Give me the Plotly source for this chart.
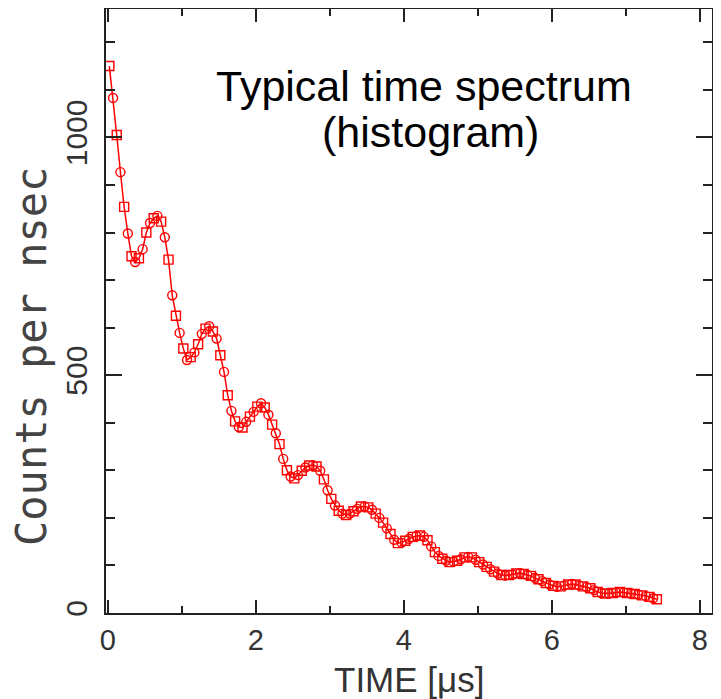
import plotly.graph_objects as go

# Histogram bin times (microseconds)
TIME_US = [
    0.02, 0.07, 0.12, 0.17, 0.22, 0.27, 0.32, 0.37, 0.42, 0.47,
    0.52, 0.57, 0.62, 0.67, 0.72, 0.77, 0.82, 0.87, 0.92, 0.97,
    1.02, 1.07, 1.12, 1.17, 1.22, 1.27, 1.32, 1.37, 1.42, 1.47,
    1.52, 1.57, 1.62, 1.67, 1.72, 1.77, 1.82, 1.87, 1.92, 1.97,
    2.02, 2.07, 2.12, 2.17, 2.22, 2.27, 2.32, 2.37, 2.42, 2.47,
    2.52, 2.57, 2.62, 2.67, 2.72, 2.77, 2.82, 2.87, 2.92, 2.97,
    3.02, 3.07, 3.12, 3.17, 3.22, 3.27, 3.32, 3.37, 3.42, 3.47,
    3.52, 3.57, 3.62, 3.67, 3.72, 3.77, 3.82, 3.87, 3.92, 3.97,
    4.02, 4.07, 4.12, 4.17, 4.22, 4.27, 4.32, 4.37, 4.42, 4.47,
    4.52, 4.57, 4.62, 4.67, 4.72, 4.77, 4.82, 4.87, 4.92, 4.97,
    5.02, 5.07, 5.12, 5.17, 5.22, 5.27, 5.32, 5.37, 5.42, 5.47,
    5.52, 5.57, 5.62, 5.67, 5.72, 5.77, 5.82, 5.87, 5.92, 5.97,
    6.02, 6.07, 6.12, 6.17, 6.22, 6.27, 6.32, 6.37, 6.42, 6.47,
    6.52, 6.57, 6.62, 6.67, 6.72, 6.77, 6.82, 6.87, 6.92, 6.97,
    7.02, 7.07, 7.12, 7.17, 7.22, 7.27, 7.32, 7.37, 7.42,
]

# Counts per nsec
COUNTS = [
    1150, 1083, 1005, 927, 854, 798, 750, 738, 746, 765,
    800, 820, 830, 835, 823, 790, 743, 668, 625, 589,
    556, 532, 538, 548, 565, 587, 598, 603, 592, 577,
    542, 507, 458, 425, 403, 391, 390, 402, 413, 423,
    434, 441, 432, 417, 396, 378, 355, 324, 300, 287,
    283, 290, 299, 306, 310, 311, 308, 299, 281, 258,
    240, 226, 215, 209, 206, 209, 214, 219, 224, 224,
    222, 217, 209, 200, 190, 178, 166, 154, 147, 148,
    152, 156, 160, 162, 163, 160, 153, 140, 128, 120,
    114, 110, 107, 108, 110, 113, 117, 118, 117, 112,
    107, 102, 97, 92, 87, 83, 80, 79, 80, 81,
    83, 84, 82, 80, 78, 74, 71, 67, 63, 60,
    57, 55, 56, 58, 60, 61, 60, 58, 56, 55,
    52, 48, 44, 42, 41, 41, 42, 43, 44, 43,
    42, 41, 40, 39, 37, 36, 34, 31, 29,
]

X_TICKS = [0, 2, 4, 6, 8]
Y_TICKS = [0, 500, 1000]

RED = "#ff0000"
AXIS = "#222222"
TXT = "#333333"

symbols = ["square-open" if i % 2 == 0 else "circle-open" for i in range(len(TIME_US))]

fig = go.Figure()
fig.add_trace(go.Scatter(
    x=TIME_US, y=COUNTS,
    mode="lines+markers",
    line=dict(color=RED, width=1.5),
    marker=dict(symbol=symbols, size=9, color=RED, line=dict(color=RED, width=1.4)),
    showlegend=False,
    hoverinfo="x+y",
))

fig.update_layout(
    # the page adds an 8px body margin, so the figure is 8px smaller on each axis
    width=713, height=691,
    margin=dict(l=98, r=9, t=1, b=86),
    paper_bgcolor="white",
    plot_bgcolor="white",
    font=dict(family="Liberation Sans, Arial, sans-serif", color=TXT),
    xaxis=dict(
        range=[-0.025, 8.165], automargin=False,
        tickmode="array", tickvals=X_TICKS, ticktext=[str(v) for v in X_TICKS],
        ticks="inside", ticklen=13, tickwidth=1.5, tickcolor=AXIS,
        minor=dict(dtick=1, tick0=0, ticks="inside", ticklen=7, tickwidth=1.5, tickcolor=AXIS, showgrid=False),
        showline=True, linecolor=AXIS, linewidth=2, mirror="allticks",
        showgrid=False, zeroline=False,
        tickfont=dict(size=29, color=TXT),
        ticklabelstandoff=0,
    ),
    yaxis=dict(
        range=[0, 1270], automargin=False,
        tickmode="array", tickvals=Y_TICKS, ticktext=[str(v) for v in Y_TICKS],
        tickangle=-90,
        ticks="inside", ticklen=16, tickwidth=1.5, tickcolor=AXIS,
        minor=dict(dtick=100, tick0=0, ticks="inside", ticklen=9, tickwidth=1.5, tickcolor=AXIS, showgrid=False),
        showline=True, linecolor=AXIS, linewidth=2, mirror="allticks",
        showgrid=False, zeroline=False,
        tickfont=dict(size=30, color=TXT),
        ticklabelstandoff=5,
    ),
    annotations=[
        dict(text="TIME [μs]", xref="paper", yref="paper",
             x=0.5, y=-0.11, xanchor="center", yanchor="middle",
             showarrow=False,
             font=dict(family="Liberation Sans, Arial, sans-serif", size=35, color=TXT)),
        dict(text="Counts per nsec", xref="paper", yref="paper",
             x=-0.122, y=0.424, xanchor="center", yanchor="middle", textangle=-90,
             showarrow=False,
             font=dict(family="DejaVu Sans Mono, monospace", size=42, color="#444444")),
        dict(text="Typical time spectrum", xref="paper", yref="paper",
             x=0.525, y=0.872, xanchor="center", yanchor="middle", showarrow=False,
             font=dict(family="Liberation Sans, Arial, sans-serif", size=43, color="black")),
        dict(text="(histogram)", xref="paper", yref="paper",
             x=0.535, y=0.797, xanchor="center", yanchor="middle", showarrow=False,
             font=dict(family="Liberation Sans, Arial, sans-serif", size=43, color="black")),
    ],
)

fig.write_html("out.html")
